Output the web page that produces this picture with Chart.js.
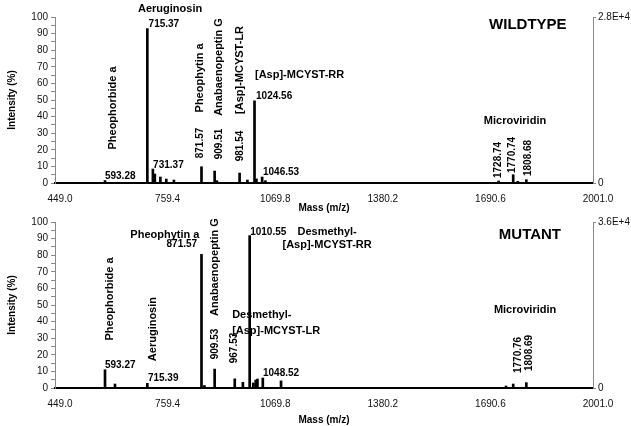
<!DOCTYPE html>
<html>
<head>
<meta charset="utf-8">
<script src="https://cdn.jsdelivr.net/npm/chart.js@4.4.0/dist/chart.umd.min.js"></script>
<style>
  html, body { margin: 0; padding: 0; background: #fff; }
  #wrap { position: relative; width: 631px; height: 426px; overflow: hidden; }
  canvas { position: absolute; left: 0; }
  #wt { top: 0; }
  #mut { top: 205px; }
</style>
</head>
<body>
<div id="wrap">
  <canvas id="wt" width="631" height="216"></canvas>
  <canvas id="mut" width="631" height="221"></canvas>
</div>
<script>
// tick labels
const massTicks = [449.0, 759.4, 1069.8, 1380.2, 1690.6, 2001.0];
const intensityTicks = [0,5,10,15,20,25,30,35,40,45,50,55,60,65,70,75,80,85,90,95,100];

// wildtype spectrum (m/z, % intensity)
const wtMass      = [593.28, 715.37, 731.37, 737, 753, 770, 792, 871.57, 909.51, 916, 981.54, 1004, 1024.56, 1030, 1046.53, 1056, 1728.74, 1770.74, 1784, 1808.68];
const wtIntensity = [1.5,    93,     8.4,    5.4, 3.6, 2.4, 1.8, 9.8,    7.2,    1.4, 6,      1.8,  49.5,    2.5,  3.6,     1.4,  1.2,     5,       1,    2];
const wtScaleTop = '2.8E+4';

// mutant spectrum (m/z, % intensity)
const mutMass      = [593.27, 622, 715.39, 871.57, 880, 909.53, 967.53, 991, 1010.55, 1021, 1028, 1033, 1048.52, 1101, 1750, 1770.76, 1808.69];
const mutIntensity = [11,     2.4, 2.8,    80.5,   1.5, 11.4,   5.5,    3.4, 91.8,    3,    4.8,  5.4,  6,       4.3,  1.2,  2.4,     3.2];
const mutScaleTop = '3.6E+4';

Chart.defaults.font.family = 'Arial, "Liberation Sans", sans-serif';

// text annotations, anchored in data units (m = m/z, v = %)
const wtLabels = [
  {t:'Aeruginosin', m:781, v:104.8, align:'center', size:11},
  {t:'715.37', m:719, v:95.8},
  {t:'Pheophorbide a', m:616, v:45.2, rot:true, size:11},
  {t:'593.28', m:593, v:4.2},
  {t:'731.37', m:732, v:10.8},
  {t:'871.57', m:867, v:24.1, rot:true},
  {t:'Pheophytin a', m:867, v:63.3, rot:true, size:11},
  {t:'909.51', m:922, v:23.5, rot:true},
  {t:'Anabaenopeptin G', m:922, v:69.9, rot:true, size:11},
  {t:'981.54', m:983, v:22.3, rot:true},
  {t:'[Asp]-MCYST-LR', m:983, v:68.1, rot:true, size:11},
  {t:'[Asp]-MCYST-RR', m:1026, v:65.1, size:11},
  {t:'1024.56', m:1029, v:52.4},
  {t:'1046.53', m:1049, v:6.6},
  {t:'WILDTYPE', m:1813, v:95.2, align:'center', size:15},
  {t:'Microviridin', m:1776, v:37.3, align:'center', size:11},
  {t:'1728.74', m:1727, v:13.9, rot:true},
  {t:'1770.74', m:1767, v:16.9, rot:true},
  {t:'1808.68', m:1813, v:15.1, rot:true}
];

const mutLabels = [
  {t:'Pheophorbide a', m:608, v:53.6, rot:true, size:11},
  {t:'593.27', m:593, v:13.9},
  {t:'Aeruginosin', m:732, v:35.5, rot:true, size:11},
  {t:'715.39', m:717, v:6.0},
  {t:'Pheophytin a', m:766, v:92.2, align:'center', size:11},
  {t:'871.57', m:859, v:86.7, align:'right'},
  {t:'Anabaenopeptin G', m:911, v:72.9, rot:true, size:11},
  {t:'909.53', m:911, v:26.5, rot:true},
  {t:'1010.55', m:1012, v:94},
  {t:'Desmethyl-', m:1234, v:94, align:'center', size:11},
  {t:'[Asp]-MCYST-RR', m:1234, v:86.1, align:'center', size:11},
  {t:'Desmethyl-', m:960, v:44, size:11},
  {t:'[Asp]-MCYST-LR', m:960, v:34.3, size:11},
  {t:'967.53', m:965, v:24.1, rot:true},
  {t:'1048.52', m:1049, v:9},
  {t:'MUTANT', m:1819, v:92.2, align:'center', size:15},
  {t:'Microviridin', m:1805, v:47, align:'center', size:11},
  {t:'1770.76', m:1785, v:19.9, rot:true},
  {t:'1808.69', m:1816, v:21.1, rot:true}
];

const peakLabels = {
  id: 'peakLabels',
  afterDatasetsDraw(chart, args, opts) {
    const {ctx} = chart;
    const x = chart.scales.x, y = chart.scales.y;
    ctx.save();
    ctx.fillStyle = '#000';
    ctx.textBaseline = 'middle';
    (opts.items || []).forEach(l => {
      const px = x.getPixelForValue(l.m);
      const py = y.getPixelForValue(l.v);
      ctx.font = `bold ${l.size || 10}px Arial, "Liberation Sans", sans-serif`;
      ctx.save();
      ctx.translate(px, py);
      if (l.rot) { ctx.rotate(-Math.PI / 2); ctx.textAlign = 'center'; }
      else ctx.textAlign = l.align || 'left';
      ctx.fillText(l.t, 0, 0);
      ctx.restore();
    });
    ctx.restore();
  }
};

function makeChart(id, masses, values, scaleTop, labels, canvasH, titlePad) {
  const points = masses.map((m, i) => ({x: m, y: values[i]}));
  return new Chart(document.getElementById(id), {
    type: 'bar',
    data: {
      datasets: [{
        data: points,
        backgroundColor: '#000',
        borderWidth: 0,
        barThickness: 2,
        yAxisID: 'y'
      }]
    },
    options: {
      responsive: false,
      animation: false,
      layout: { padding: { top: 17, left: 0, right: 0, bottom: 0 } },
      plugins: {
        legend: { display: false },
        tooltip: { enabled: false },
        peakLabels: { items: labels }
      },
      scales: {
        x: {
          type: 'linear', min: 449, max: 2001, offset: false,
          afterBuildTicks: s => { s.ticks = massTicks.map(v => ({value: v})); },
          afterFit: s => { s.height = canvasH - 183; },
          ticks: {
            callback: v => v.toFixed(1),
            font: { size: 10 }, color: '#111',
            padding: 10, labelOffset: 5, maxRotation: 0, autoSkip: false
          },
          grid: { display: false, drawTicks: false },
          border: { display: true, color: '#000', width: 2 },
          title: {
            display: true, text: 'Mass (m/z)', color: '#000',
            font: { size: 10, weight: 'bold' },
            padding: { top: 0, bottom: titlePad }
          }
        },
        y: {
          position: 'left', min: 0, max: 100,
          afterBuildTicks: s => { s.ticks = intensityTicks.map(v => ({value: v})); },
          afterFit: s => { s.width = 55; },
          ticks: {
            callback: v => (v % 10 === 0 ? v : ''),
            font: { size: 10 }, color: '#111', padding: 3, autoSkip: false
          },
          grid: { drawOnChartArea: false, drawTicks: true, tickLength: 4, color: '#888' },
          border: { color: '#888', width: 1 },
          title: {
            display: true, text: 'Intensity (%)', color: '#000',
            font: { size: 10, weight: 'bold' },
            padding: { top: 6, bottom: 0 }
          }
        },
        y1: {
          position: 'right', min: 0, max: 100,
          afterBuildTicks: s => { s.ticks = [{value: 0}, {value: 100}]; },
          afterFit: s => { s.width = 38; },
          ticks: {
            callback: v => (v === 100 ? scaleTop : '0'),
            font: { size: 10 }, color: '#111', padding: 2, autoSkip: false
          },
          grid: { drawOnChartArea: false, drawTicks: true, tickLength: 3, color: '#888' },
          border: { color: '#888', width: 1 }
        }
      }
    },
    plugins: [peakLabels]
  });
}

makeChart('wt', wtMass, wtIntensity, wtScaleTop, wtLabels, 216, 2);
makeChart('mut', mutMass, mutIntensity, mutScaleTop, mutLabels, 221, 0);
</script>
</body>
</html>
